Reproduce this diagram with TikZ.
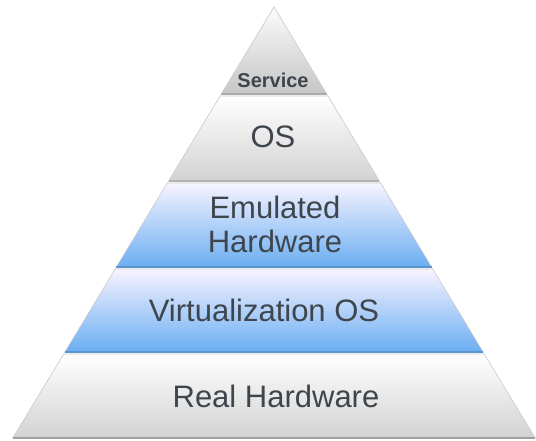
\documentclass[tikz,border=0pt]{standalone}
\usepackage{fontspec}
\setmainfont{Liberation Sans}
\usetikzlibrary{calc}
\definecolor{texto}{HTML}{3F454D}
\definecolor{azul}{HTML}{6AAEF2}
\definecolor{lila}{HTML}{F7F3FF}
\definecolor{gris}{HTML}{D2D2D2}
\tikzset{
    capagris/.style={top color=white,middle color=white!92!gris,bottom color=gris},
    capaazul/.style={top color=lila,middle color=azul!45!white,bottom color=azul},
    capaserv/.style={top color=gray!3,middle color=gray!15,bottom color=gray!45},
    borde/.style={draw=gray!40,line width=0.6pt},
    base/.style={draw=gray!75,line width=1.2pt},
    etiqueta/.style={text=texto,font=\fontsize{31}{34}\selectfont,align=center},
    titulo/.style={text=texto,font=\bfseries\fontsize{20}{22}\selectfont},
}
\begin{document}
\begin{tikzpicture}[x=1pt,y=-1pt]
\useasboundingbox (0,0) rectangle (536,441);

% contorno
\draw[gray!25] (274,7) -- (13,438) -- (535,438) -- cycle;

% capas
\shade[capaserv,borde] (274,7) -- (326.7,94) -- (221.3,94) -- cycle;
\draw[base,gray!65] (221.3,94) -- (326.7,94);

\shade[capagris,borde] (220.1,96) -- (327.9,96) -- (379.4,181) -- (168.6,181) -- cycle;
\draw[base,gray!60] (168.6,181) -- (379.4,181);

\shade[capaazul,borde] (167.3,183) -- (380.7,183) -- (431.6,267) -- (116.4,267) -- cycle;
\draw[base,azul!85!black] (116.4,267) -- (431.6,267);

\shade[capaazul,borde] (115.2,269) -- (432.8,269) -- (483.1,352) -- (64.9,352) -- cycle;
\draw[base,azul!85!black] (64.9,352) -- (483.1,352);

\shade[capagris,borde] (63.7,354) -- (484.3,354) -- (535.2,438) -- (12.8,438) -- cycle;
\draw[base] (12.8,438) -- (535.2,438);

% textos
\node[titulo]   (service) at (273,80)  {Service};
\node[etiqueta] (os)      at (273,137) {OS};
\node[etiqueta] (emul)    at (275,224) {Emulated\\Hardware};
\node[etiqueta] (virt)    at (264,310) {Virtualization OS};
\node[etiqueta] (real)    at (276,396) {Real Hardware};
\end{tikzpicture}
\end{document}
